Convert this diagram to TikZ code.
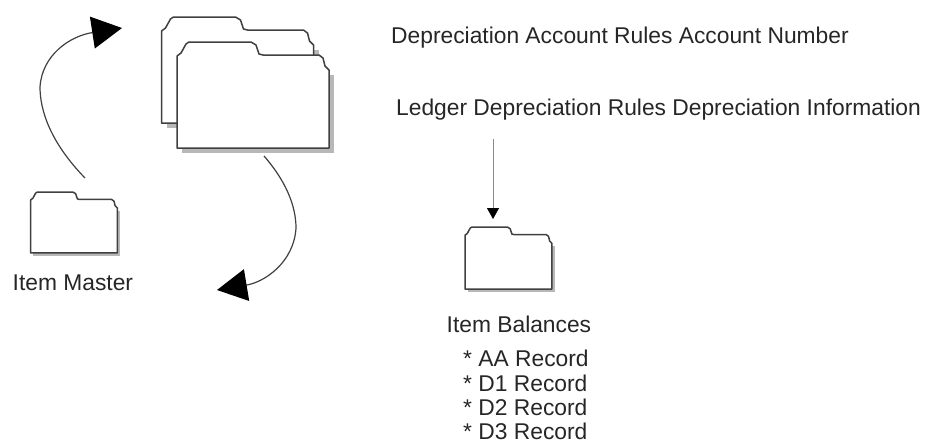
\documentclass[tikz,border=0pt]{standalone}
\usepackage{fontspec}
\setmainfont{Liberation Sans}
\usetikzlibrary{arrows.meta,positioning}

\begin{document}
\begin{tikzpicture}
    [
      x=1pt,y=-1pt,
      label/.style={inner sep=0pt,anchor=base west,text=black!85,font=\fontsize{22.8}{24.3}\selectfont},
      folder/.style={draw=black!75,fill=white,line width=1.5pt,line join=round},
      shade/.style={fill=black!28,draw=none},
      post/.style={draw=black!75,line width=1.2pt,-{Triangle[length=30pt,width=32pt,black]}},
      thin post/.style={draw=black!45,line width=0.8pt,-{Triangle[length=11pt,width=12pt,black]}},
      folder shape/.pic={
        \path [shade] (5,33) -- (157,33) -- (157,111) -- (5,111) -- cycle;
        \path [folder] (0,14) -- (4,11) -- (9,2) -- (12,0) -- (74,0) -- (79,3) -- (82,12) -- (86,13)
          -- (142,13) -- (146,16) -- (148,24) -- (152,28) -- (152,106) -- (0,106) -- cycle;
      },
    ]

    \useasboundingbox (0,0) rectangle (925,440);

    \pic at (161.5,17) {folder shape};
    \pic at (177,42) {folder shape};
    \pic [xscale=0.572,yscale=0.575] at (30.5,192) {folder shape};
    \pic [xscale=0.572,yscale=0.585] at (465,227) {folder shape};

    \node (master) [label] at (12.5,290) {Item Master};
    \node (account) [label] at (391,43.5) {Depreciation Account Rules Account Number};
    \node (ledger) [label] at (396,115.5) {Ledger Depreciation Rules Depreciation Information};
    \node (balances) [label] at (446.5,332) {Item Balances};
    \node (records) [label,align=left,anchor=north west] at (463,350) {* AA Record\\* D1 Record\\* D2 Record\\* D3 Record};

    \coordinate (master-out) at (85,178);
    \coordinate (stack-in) at (122,28);
    \coordinate (stack-out) at (264,156);
    \coordinate (stack-end) at (217,290);
    \coordinate (ledger-out) at (493,139);
    \coordinate (balances-in) at (493,219);

    \draw [post] (master-out) .. controls (50,142) and (40,110) .. (40,87)
      .. controls (42,55) and (70,36) .. (stack-in);
    \draw [post] (stack-out) .. controls (285,180) and (296,205) .. (296,228)
      .. controls (294,262) and (265,282) .. (stack-end);
    \draw [thin post] (ledger-out) -- (balances-in);

  \end{tikzpicture}
\end{document}
